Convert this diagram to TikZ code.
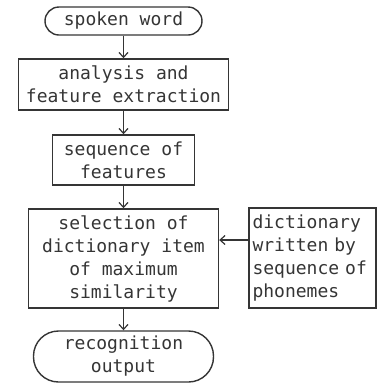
\documentclass[tikz,border=0pt]{standalone}
\usepackage{fontspec}
\newfontfamily\monofont{DejaVu Sans Mono}
\usetikzlibrary{arrows.meta}
\definecolor{ink}{HTML}{353535}
\begin{document}
\begin{tikzpicture}[x=1pt,y=1pt,
  every node/.style={font=\monofont\fontsize{18}{23}\selectfont, text=ink},
  box/.style={draw=ink, line width=1.4pt, rectangle, inner sep=0pt, align=center},
  term/.style={box, rounded corners=#1},
  arr/.style={draw=ink, line width=1.2pt, -{Straight Barb[length=5pt,width=9pt]}}]
\useasboundingbox (0,0) rectangle (377,-384);
\node[term=14pt, minimum width=157pt, minimum height=28pt] (spoken) at (123.5,-21) {spoken word};
\node[box, minimum width=210pt, minimum height=51pt] (analysis) at (123.5,-84.5) {analysis and\\feature extraction};
\node[box, minimum width=142pt, minimum height=50pt] (seq) at (123.5,-160) {sequence of\\features};
\node[box, minimum width=190pt, minimum height=99pt] (sel) at (123.5,-258.5) {selection of\\dictionary item\\of maximum\\similarity};
\node[box, align=left, text width=120pt, inner xsep=3.5pt, minimum height=100pt] (dict) at (312.5,-258) {dictionary\\written by\\sequence of\\phonemes};
\node[term=25pt, minimum width=180pt, minimum height=51pt] (rec) at (123.5,-356.5) {recognition\\output};
\coordinate (ay) at (0,-240);
\draw[arr] (spoken) -- (analysis);
\draw[arr] (analysis) -- (seq);
\draw[arr] (seq) -- (sel);
\draw[arr] (sel) -- (rec);
\draw[arr] (dict.west |- ay) -- (sel.east |- ay);
\end{tikzpicture}
\end{document}
